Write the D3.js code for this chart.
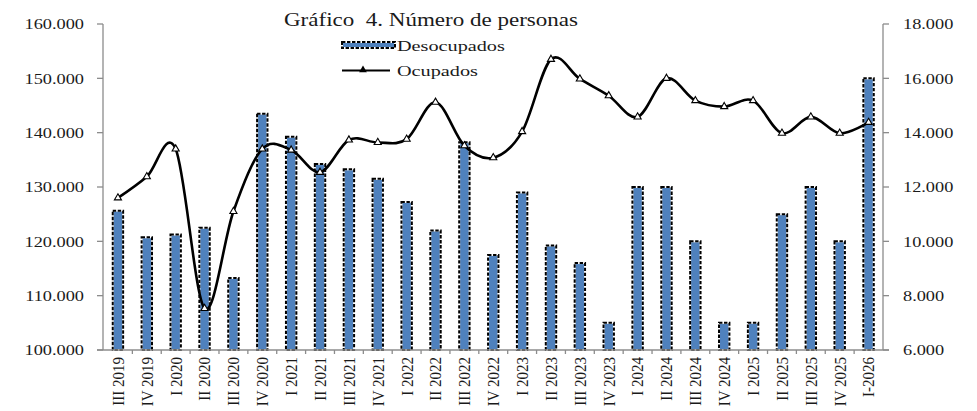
<!DOCTYPE html>
<html>
<head>
<meta charset="utf-8">
<script src="https://cdn.jsdelivr.net/npm/d3@7"></script>
<style>
  html, body { margin: 0; padding: 0; background: #fff; }
  svg { display: block; }
  text { font-family: "Liberation Serif", "Times New Roman", serif; fill: #1a1a1a; }
</style>
</head>
<body>
<svg id="chart" width="977" height="411"></svg>
<script>
const categories = ["III 2019","IV 2019","I 2020","II 2020","III 2020","IV 2020","I 2021","II 2021","III 2021","IV 2021","I 2022","II 2022","III 2022","IV 2022","I 2023","II 2023","III 2023","IV 2023","I 2024","II 2024","III 2024","IV 2024","I 2025","II 2025","III 2025","IV 2025","I-2026"];
const desocupados = [11130, 10150, 10250, 10500, 8650, 14700, 13850, 12850, 12650, 12300, 11450, 10400, 13650, 9500, 11800, 9850, 9200, 7000, 12000, 12000, 10000, 7000, 7000, 11000, 12000, 10000, 16000];
const ocupados = [128000, 131900, 137000, 107650, 125500, 137000, 136800, 132700, 138650, 138200, 138800, 145600, 137600, 135400, 140200, 153500, 149900, 146800, 142900, 150000, 145900, 144800, 145900, 139900, 142900, 139900, 141900];
const leftTicks = [100000, 110000, 120000, 130000, 140000, 150000, 160000];
const rightTicks = [6000, 8000, 10000, 12000, 14000, 16000, 18000];
const titleText = "Gráfico  4. Número de personas";
const legendBar = "Desocupados";
const legendLine = "Ocupados";

const svg = d3.select("#chart");
const L = 103, R = 883, T = 24, B = 350;
const axisColor = "#8c8c8c";
const barColor = "#4f81bd";

const x = d3.scaleBand().domain(categories).range([L + 0.5, R]).padding(0);
const yL = d3.scaleLinear().domain([100000, 160000]).range([B, T]);
const yR = d3.scaleLinear().domain([6000, 18000]).range([B, T]);
const fmt = v => d3.format(",")(v).replace(/,/g, ".");

// Bars (Desocupados, right axis)
const bw = x.step() * 0.36;
const bars = svg.append("g");
function drawBar(g, bx, by, w, h) {
  g.append("rect").attr("x", bx).attr("y", by).attr("width", w).attr("height", h)
    .attr("fill", barColor).attr("stroke", "#fff").attr("stroke-width", 2);
  g.append("rect").attr("x", bx).attr("y", by).attr("width", w).attr("height", h)
    .attr("fill", "none").attr("stroke", "#000").attr("stroke-width", 2)
    .attr("stroke-dasharray", "3.4,1.6");
}
categories.forEach((c, i) => {
  const cx = x(c) + x.bandwidth() / 2;
  drawBar(bars, cx - bw / 2, yR(desocupados[i]), bw, B - yR(desocupados[i]));
});

// Axes lines
const ax = svg.append("g").attr("stroke", axisColor).attr("stroke-width", 1.3).attr("fill", "none");
ax.append("line").attr("x1", L).attr("x2", L).attr("y1", T).attr("y2", B);
ax.append("line").attr("x1", R).attr("x2", R).attr("y1", T).attr("y2", B);
ax.append("line").attr("x1", L - 6).attr("x2", R + 6).attr("y1", B).attr("y2", B);
leftTicks.forEach(v => ax.append("line").attr("x1", L - 6).attr("x2", L).attr("y1", yL(v)).attr("y2", yL(v)));
rightTicks.forEach(v => ax.append("line").attr("x1", R).attr("x2", R + 6).attr("y1", yR(v)).attr("y2", yR(v)));
categories.forEach((c, i) => {
  if (i === 0) return;
  ax.append("line").attr("x1", x(c)).attr("x2", x(c)).attr("y1", B).attr("y2", B + 4);
});

// Axis labels
leftTicks.forEach(v => {
  svg.append("g").attr("transform", `translate(84,${yL(v)}) scale(1.22,1)`)
    .append("text").attr("text-anchor", "end").attr("dy", "0.35em").attr("font-size", 15).text(fmt(v));
});
rightTicks.forEach(v => {
  svg.append("g").attr("transform", `translate(903,${yR(v)}) scale(1.22,1)`)
    .append("text").attr("text-anchor", "start").attr("dy", "0.35em").attr("font-size", 15).text(fmt(v));
});
categories.forEach(c => {
  const cx = x(c) + x.bandwidth() / 2;
  svg.append("g").attr("transform", `translate(${cx},357) rotate(-90) scale(1,1.12)`)
    .append("text").attr("text-anchor", "end").attr("dy", "0.35em").attr("font-size", 15).text(c);
});

// Line (Ocupados, left axis)
const line = d3.line()
  .x((d, i) => x(categories[i]) + x.bandwidth() / 2)
  .y(d => yL(d))
  .curve(d3.curveCardinal.tension(0));
svg.append("path").datum(ocupados).attr("d", line)
  .attr("fill", "none").attr("stroke", "#000").attr("stroke-width", 2.6);
const tri = d3.symbol().type(d3.symbolTriangle).size(22);
ocupados.forEach((v, i) => {
  svg.append("path").attr("d", tri)
    .attr("transform", `translate(${x(categories[i]) + x.bandwidth() / 2},${yL(v)})`)
    .attr("fill", "#fff").attr("stroke", "#000").attr("stroke-width", 1.1);
});

// Title
svg.append("g").attr("transform", "translate(431,26) scale(1.28,1)")
  .append("text").attr("text-anchor", "middle").attr("font-size", 18).style("white-space", "pre").text(titleText);

// Legend
const lg = svg.append("g");
drawBar(lg, 342, 42, 53, 6);
svg.append("g").attr("transform", "translate(397,50.5) scale(1.35,1)")
  .append("text").attr("font-size", 15).text(legendBar);
lg.append("line").attr("x1", 342).attr("x2", 390).attr("y1", 70.5).attr("y2", 70.5)
  .attr("stroke", "#000").attr("stroke-width", 2);
lg.append("path").attr("d", d3.symbol().type(d3.symbolTriangle).size(26))
  .attr("transform", "translate(363,70)").attr("fill", "#000");
svg.append("g").attr("transform", "translate(397,75.5) scale(1.35,1)")
  .append("text").attr("font-size", 15).text(legendLine);
</script>
</body>
</html>
